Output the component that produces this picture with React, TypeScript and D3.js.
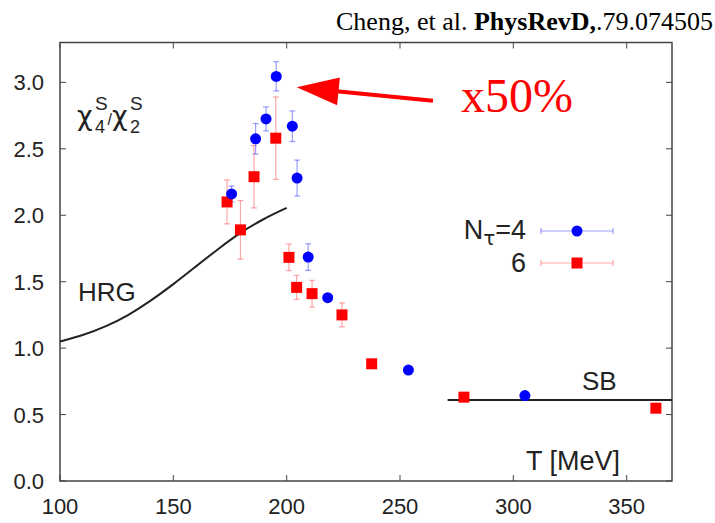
import React from "react";
import * as d3 from "d3";

const xTicks = [100, 150, 200, 250, 300, 350];
const yTicks = [0, 0.5, 1.0, 1.5, 2.0, 2.5, 3.0];

const blueT = [175.7, 186.3, 190.9, 195.4, 202.5, 204.6, 209.5, 218.1, 253.7, 305.1];
const blueV = [2.16, 2.575, 2.725, 3.045, 2.67, 2.28, 1.685, 1.38, 0.835, 0.643];
const blueE = [0.06, 0.115, 0.09, 0.11, 0.115, 0.135, 0.1, 0.02, 0.02, 0.02];

const redT = [173.7, 179.6, 185.6, 195.2, 201.0, 204.4, 211.2, 224.4, 237.5, 278.2, 362.9];
const redV = [2.1, 1.89, 2.29, 2.58, 1.683, 1.457, 1.41, 1.25, 0.882, 0.631, 0.548];
const redE = [0.165, 0.22, 0.235, 0.31, 0.1, 0.09, 0.1, 0.09, 0.03, 0.02, 0.02];

const hrgT = [100, 110, 120, 130, 140, 150, 160, 170, 180, 190, 200];
const hrgV = [1.05, 1.095, 1.16, 1.245, 1.355, 1.48, 1.615, 1.75, 1.875, 1.975, 2.055];

const sbT = [271, 370];
const sbV = [0.61, 0.61];

const W = 715;
const H = 523;
const L = 60, R = 672, T = 42.5, B = 481;

export default function App() {
  const x = d3.scaleLinear().domain([100, 370]).range([L, R]);
  const y = d3.scaleLinear().domain([0, 3.3]).range([B, T]);
  const line = d3
    .line<number>()
    .x((_, i) => x(hrgT[i]))
    .y((d) => y(d))
    .curve(d3.curveBasis);
  const sbLine = d3
    .line<number>()
    .x((_, i) => x(sbT[i]))
    .y((d) => y(d));

  const sans = "'Liberation Sans', Arial, Helvetica, sans-serif";
  const greek = "'DejaVu Sans', sans-serif";
  const serif = "'Liberation Serif', 'Times New Roman', serif";
  const axisColor = "#444";
  const blueErr = "rgba(60,60,255,0.5)";
  const redErr = "rgba(255,60,60,0.45)";
  const tk = 6;

  // arrow
  const tail = [433, 100.7];
  const tip = [296.7, 87.3];
  const dx = tip[0] - tail[0];
  const dy = tip[1] - tail[1];
  const len = Math.sqrt(dx * dx + dy * dy);
  const ux = dx / len, uy = dy / len;
  const headLen = 42;
  const headHalf = 14;
  const bx = tip[0] - ux * headLen, by = tip[1] - uy * headLen;
  const px = -uy, py = ux;

  return (
    <svg width={W} height={H} style={{ position: "absolute", left: 0, top: 0 }}>
      <rect width={W} height={H} fill="#fff" />
      {/* title */}
      <text x={713} y={30} textAnchor="end" fontFamily={serif} fontSize={26} fill="#000">
        Cheng, et al. <tspan fontWeight="bold">PhysRevD,</tspan>.79.074505
      </text>

      {/* frame */}
      <rect x={L} y={T} width={R - L} height={B - T} fill="none" stroke={axisColor} strokeWidth={1.5} />
      {xTicks.map((t) => (
        <g key={"xt" + t}>
          <line x1={x(t)} x2={x(t)} y1={B} y2={B - tk} stroke={axisColor} strokeWidth={1} />
          <line x1={x(t)} x2={x(t)} y1={T} y2={T + tk} stroke={axisColor} strokeWidth={1} />
          <text x={x(t)} y={514} textAnchor="middle" fontFamily={sans} fontSize={22} fill="#222">
            {t}
          </text>
        </g>
      ))}
      {yTicks.map((t) => (
        <g key={"yt" + t}>
          <line x1={L} x2={L + tk} y1={y(t)} y2={y(t)} stroke={axisColor} strokeWidth={1} />
          <line x1={R} x2={R - tk} y1={y(t)} y2={y(t)} stroke={axisColor} strokeWidth={1} />
          <text x={44} y={y(t) + 8} textAnchor="end" fontFamily={sans} fontSize={22} fill="#222">
            {t.toFixed(1)}
          </text>
        </g>
      ))}

      {/* curves */}
      <path d={line(hrgV) || ""} fill="none" stroke="#222" strokeWidth={2} />
      <path d={sbLine(sbV) || ""} fill="none" stroke="#222" strokeWidth={2} />

      {/* error bars */}
      {redT.map((t, i) => (
        <g key={"re" + i} stroke={redErr} strokeWidth={1.2}>
          <line x1={x(t)} x2={x(t)} y1={y(redV[i] - redE[i])} y2={y(redV[i] + redE[i])} />
          <line x1={x(t) - 3} x2={x(t) + 3} y1={y(redV[i] - redE[i])} y2={y(redV[i] - redE[i])} />
          <line x1={x(t) - 3} x2={x(t) + 3} y1={y(redV[i] + redE[i])} y2={y(redV[i] + redE[i])} />
        </g>
      ))}
      {blueT.map((t, i) => (
        <g key={"be" + i} stroke={blueErr} strokeWidth={1.2}>
          <line x1={x(t)} x2={x(t)} y1={y(blueV[i] - blueE[i])} y2={y(blueV[i] + blueE[i])} />
          <line x1={x(t) - 3} x2={x(t) + 3} y1={y(blueV[i] - blueE[i])} y2={y(blueV[i] - blueE[i])} />
          <line x1={x(t) - 3} x2={x(t) + 3} y1={y(blueV[i] + blueE[i])} y2={y(blueV[i] + blueE[i])} />
        </g>
      ))}
      {/* markers */}
      {redT.map((t, i) => (
        <rect key={"rm" + i} x={x(t) - 5.5} y={y(redV[i]) - 5.5} width={11} height={11} fill="#f00" />
      ))}
      {blueT.map((t, i) => (
        <circle key={"bm" + i} cx={x(t)} cy={y(blueV[i])} r={5.5} fill="#00f" />
      ))}

      {/* y label chi4/chi2 */}
      <g fill="#222">
        <text x={77} y={125} fontFamily={greek} fontSize={27}>χ</text>
        <text x={95} y={133} fontFamily={sans} fontSize={18}>4</text>
        <text x={95} y={110} fontFamily={sans} fontSize={19}>S</text>
        <text x={107.5} y={125} fontFamily={sans} fontSize={16}>/</text>
        <text x={112} y={125} fontFamily={greek} fontSize={27}>χ</text>
        <text x={130} y={133} fontFamily={sans} fontSize={18}>2</text>
        <text x={130} y={110} fontFamily={sans} fontSize={19}>S</text>
      </g>
      <g fontFamily={sans} fill="#222">
        <text x={78} y={301} fontSize={26}>HRG</text>
        <text x={582} y={390} fontSize={26}>SB</text>
        <text x={526} y={470} fontSize={27}>T [MeV]</text>
      </g>

      {/* legend */}
      <g fontFamily={sans} fill="#222">
        <text x={526} y={239} textAnchor="end" fontSize={27}>
          N<tspan fontFamily={greek} fontSize={20} dy={6}>τ</tspan><tspan dy={-6}>=4</tspan>
        </text>
        <text x={526} y={272} textAnchor="end" fontSize={27}>6</text>
      </g>
      <g stroke={blueErr} strokeWidth={1.2}>
        <line x1={541} x2={613} y1={231} y2={231} />
        <line x1={541} x2={541} y1={228} y2={234} />
        <line x1={613} x2={613} y1={228} y2={234} />
      </g>
      <circle cx={577} cy={231} r={5.5} fill="#00f" />
      <g stroke={redErr} strokeWidth={1.2}>
        <line x1={541} x2={613} y1={263} y2={263} />
        <line x1={541} x2={541} y1={260} y2={266} />
        <line x1={613} x2={613} y1={260} y2={266} />
      </g>
      <rect x={571.5} y={257.5} width={11} height={11} fill="#f00" />

      {/* arrow annotation */}
      <line x1={tail[0]} y1={tail[1]} x2={bx + ux * 2} y2={by + uy * 2} stroke="#f00" strokeWidth={4} />
      <polygon
        points={`${tip[0]},${tip[1]} ${bx + px * headHalf},${by + py * headHalf} ${bx - px * headHalf},${by - py * headHalf}`}
        fill="#f00"
      />
      <text x={461} y={112} fontFamily={serif} fontSize={48} fill="#f00">
        x50%
      </text>
    </svg>
  );
}
